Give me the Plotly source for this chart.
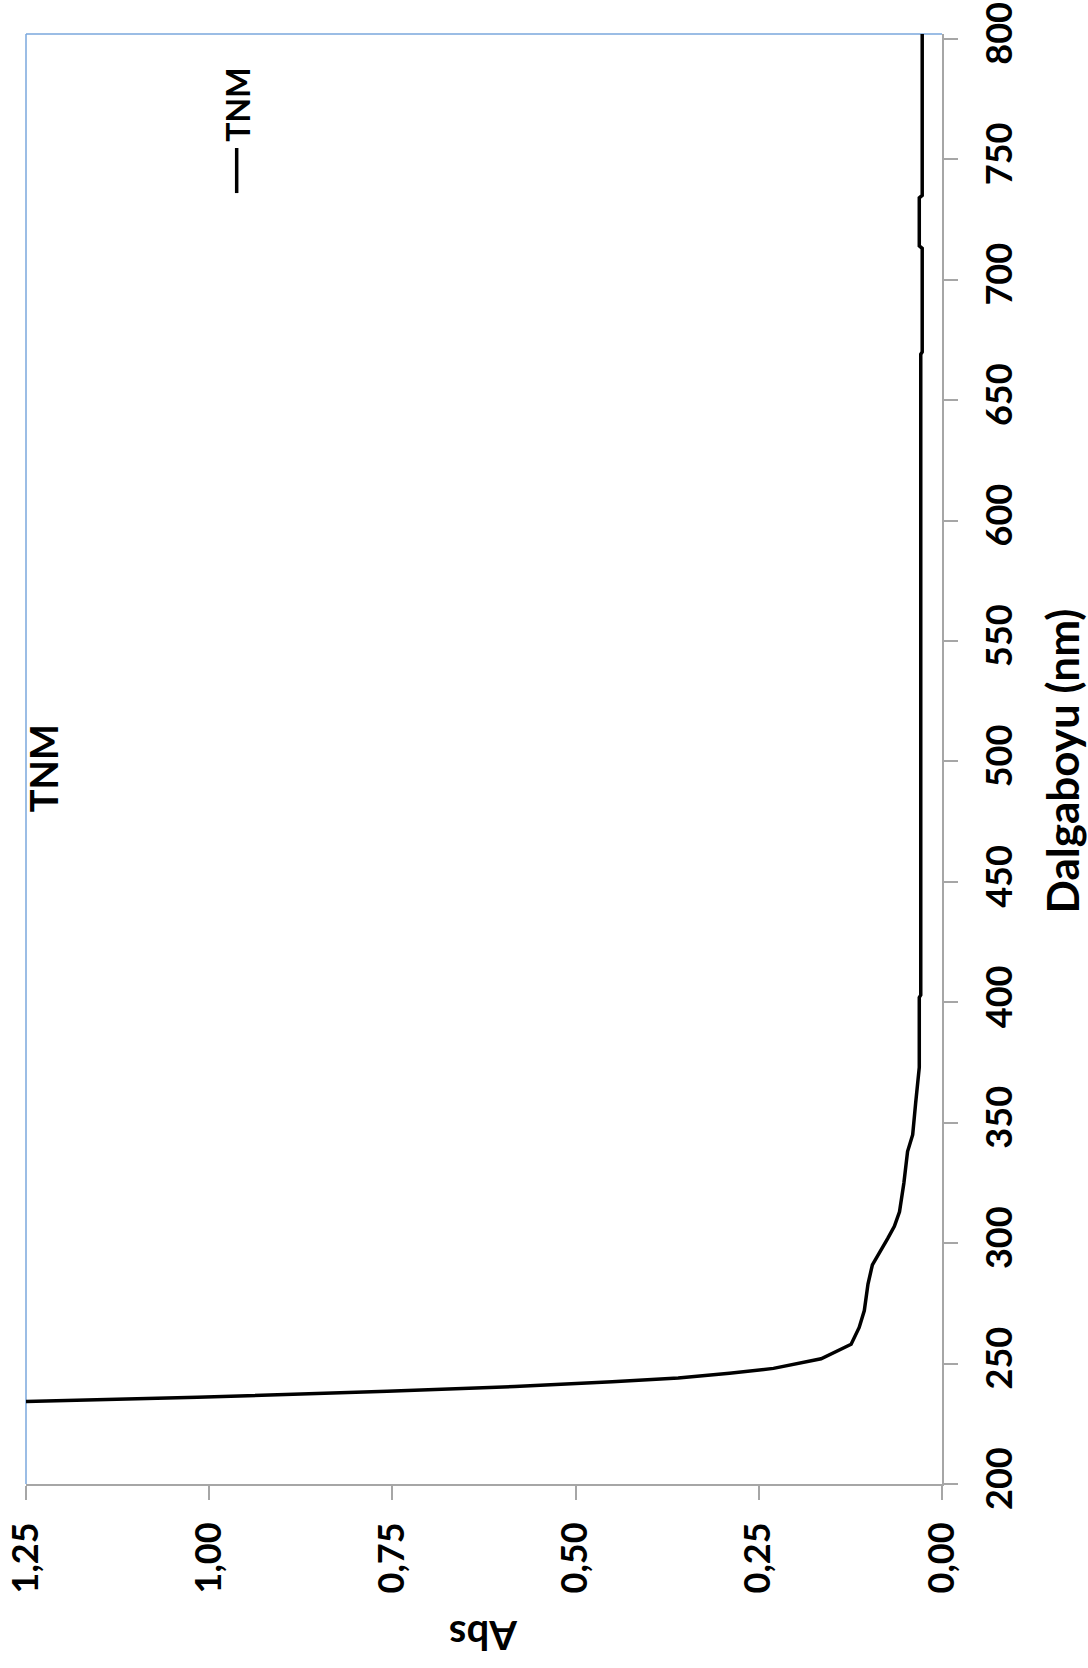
import plotly.graph_objects as go

# TNM absorbans spektrumu (dalgaboyu nm, Abs)
wavelength = [234.2, 236.0, 238.5, 240.5, 242.5, 244.0, 246.0, 248.0, 252.0, 258.0,
              265.0, 272.0, 283.0, 291.0, 302.0, 307.0, 313.0, 325.0, 338.0, 345.0,
              358.0, 373.0, 402.0, 403.0, 450.0, 500.0, 550.0, 600.0, 650.0, 669.0,
              670.0, 713.0, 714.0, 734.0, 735.0, 802.0]
absorbance = [1.25, 1.016, 0.757, 0.583, 0.45, 0.36, 0.29, 0.23, 0.165, 0.124,
              0.113, 0.106, 0.101, 0.095, 0.074, 0.065, 0.058, 0.052, 0.047, 0.040,
              0.036, 0.031, 0.031, 0.029, 0.029, 0.029, 0.029, 0.029, 0.029, 0.029,
              0.027, 0.027, 0.031, 0.031, 0.027, 0.027]

abs_ticks = [0.0, 0.25, 0.5, 0.75, 1.0, 1.25]
abs_labels = ["0,00", "0,25", "0,50", "0,75", "1,00", "1,25"]
wl_ticks = [200, 250, 300, 350, 400, 450, 500, 550, 600, 650, 700, 750, 800]

FONT = "Lato, 'Open Sans', sans-serif"
AXIS_GRAY = "#a6a6a6"
FRAME_BLUE = "#7aa7dc"

fig = go.Figure()

fig.add_trace(
    go.Scatter(
        x=absorbance,
        y=wavelength,
        mode="lines",
        name="TNM",
        line=dict(color="black", width=3.5),
        showlegend=False,
    )
)

fig.update_layout(
    width=1088,
    height=1668,
    margin=dict(l=26, r=146, t=34, b=184),
    plot_bgcolor="white",
    paper_bgcolor="white",
    font=dict(family=FONT, size=36, color="black", weight="bold"),
    xaxis=dict(
        range=[1.25, 0],
        tickvals=abs_ticks,
        ticktext=abs_labels,
        tickangle=-90,
        ticks="outside",
        ticklen=14,
        tickwidth=2,
        tickcolor=AXIS_GRAY,
        showline=True,
        linecolor=AXIS_GRAY,
        linewidth=2,
        showgrid=False,
        zeroline=False,
        automargin=False,
        ticklabelstandoff=8,
        ticklabeloverflow="allow",
        tickfont=dict(family=FONT, size=36, weight="bold"),
    ),
    yaxis=dict(
        range=[200, 802],
        side="right",
        tickvals=wl_ticks,
        tickangle=-90,
        ticks="outside",
        ticklen=14,
        tickwidth=2,
        tickcolor=AXIS_GRAY,
        showline=True,
        linecolor=AXIS_GRAY,
        linewidth=2,
        showgrid=False,
        zeroline=False,
        automargin=False,
        ticklabelstandoff=11,
        ticklabeloverflow="allow",
        tickfont=dict(family=FONT, size=36, weight="bold"),
    ),
)

# Excel tarzı çerçeve: üst ve sol kenar mavi
fig.add_shape(type="line", xref="paper", yref="paper", x0=0, x1=1, y0=1, y1=1,
              line=dict(color=FRAME_BLUE, width=1.5), layer="below")
fig.add_shape(type="line", xref="paper", yref="paper", x0=0, x1=0, y0=0, y1=1,
              line=dict(color=FRAME_BLUE, width=1.5), layer="below")

# eksen başlıkları (döndürülmüş)
fig.add_annotation(text="Dalgaboyu (nm)", xref="paper", yref="paper", x=1.131, y=0.499,
                   xanchor="center", yanchor="middle",
                   textangle=-90, showarrow=False,
                   font=dict(family=FONT, size=44, weight="bold"))
fig.add_annotation(text="Abs", xref="paper", yref="paper", x=0.5, y=-0.1048,
                   xanchor="center", yanchor="middle",
                   textangle=180, showarrow=False,
                   font=dict(family=FONT, size=40, weight="bold"))

# grafik başlığı
fig.add_annotation(text="TNM", xref="paper", yref="paper", x=0.018, y=0.494,
                   xanchor="center", yanchor="middle",
                   textangle=-90, showarrow=False,
                   font=dict(family=FONT, size=38, weight="bold"))

# lejant
fig.add_shape(type="line", xref="paper", yref="paper", x0=0.230, x1=0.230,
              y0=0.8903, y1=0.9214, line=dict(color="black", width=3.5))
fig.add_annotation(text="TNM", xref="paper", yref="paper", x=0.230, y=0.951,
                   xanchor="center", yanchor="middle",
                   textangle=-90, showarrow=False,
                   font=dict(family=FONT, size=32, weight="bold"))

# sayfa kenar boşluğunu kaldır, grafik pencereye tam otursun
fig.write_html("out.html", config={"displayModeBar": False},
               post_script="document.body.style.margin = '0';")
